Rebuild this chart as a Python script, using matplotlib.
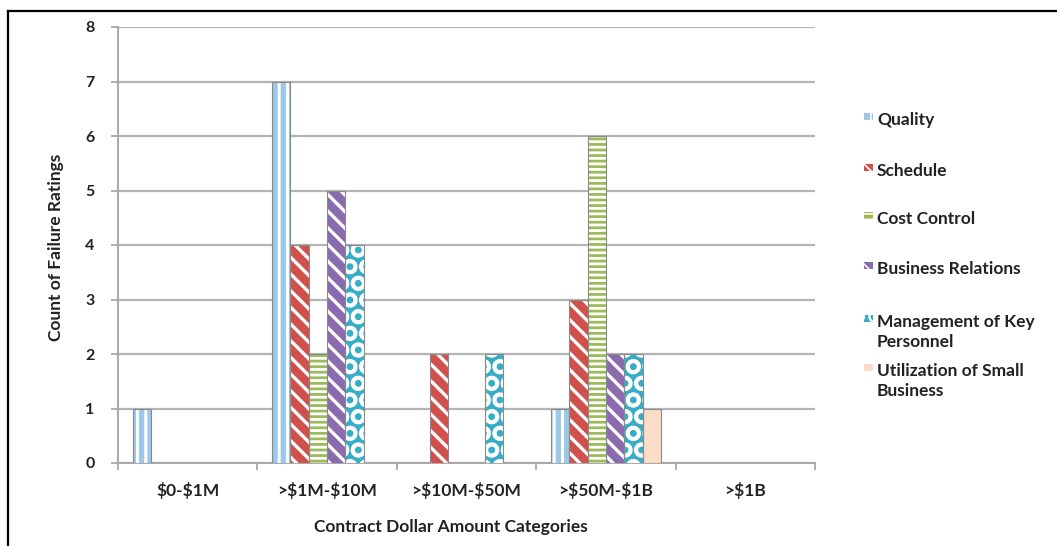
import numpy as np
import matplotlib
matplotlib.use("Agg")
import matplotlib.pyplot as plt
from matplotlib.lines import Line2D
from matplotlib.patches import Rectangle

plt.rcParams["font.family"] = ["Lato", "DejaVu Sans"]
plt.rcParams["font.weight"] = "bold"
plt.rcParams["text.parse_math"] = False

# failure ratings per contract size
categories = ["$0-$1M", ">$1M-$10M", ">$10M-$50M", ">$50M-$1B", ">$1B"]
quality = [1, 7, 0, 1, 0]
schedule = [0, 4, 2, 3, 0]
cost_control = [0, 2, 0, 6, 0]
business_relations = [0, 5, 0, 2, 0]
key_personnel = [0, 4, 2, 2, 0]
small_business = [0, 0, 0, 1, 0]

# name, values, colour, hatch, hatch line width
series = [
    ("Quality", quality, "#9cc8ea", "||", 2.2),
    ("Schedule", schedule, "#d0504c", "\\\\", 2.4),
    ("Cost Control", cost_control, "#9bbb59", "---", 2.0),
    ("Business Relations", business_relations, "#8a6bb0", "\\\\", 2.4),
    ("Management of Key\nPersonnel", key_personnel, "#37aec8", "O", 2.6),
    ("Utilization of Small\nBusiness", small_business, "#fbdcc8", "", 1.0),
]

W, H = 1057, 546
fig = plt.figure(figsize=(W / 100, H / 100), dpi=100)
ax = fig.add_axes([118 / W, 1 - 463 / H, 697 / W, 436 / H])

x = np.arange(len(categories))
n = len(series)
w = 0.79 / n

text_col = "#222222"
fs = 12.5

for i, (name, vals, col, hatch, hlw) in enumerate(series):
    pos = x - 0.395 + w * (i + 0.5)
    with plt.rc_context({"hatch.linewidth": hlw}):
        ax.bar(pos, vals, width=w, color=col, hatch=hatch, edgecolor="white",
               linewidth=0, zorder=3)
    ax.bar(pos, vals, width=w, fill=False, edgecolor="#8a8a8a",
           linewidth=0.8, zorder=4)

ax.set_xlim(-0.5, len(categories) - 0.5)
ax.set_ylim(0, 8)
ax.set_yticks(range(0, 9))
ax.set_xticks(x)
ax.set_xticklabels(categories, fontsize=fs, fontweight="bold", color=text_col)
ax.set_xticks(np.arange(-0.5, len(categories)), minor=True)
ax.tick_params(axis="x", which="major", length=0, pad=14)
ax.tick_params(axis="x", which="minor", length=5, color="#a0a0a0", width=1.2)
ax.tick_params(axis="y", length=5, color="#a0a0a0", width=1.2, pad=12,
               labelsize=fs - 1, labelcolor=text_col)
for t in ax.get_yticklabels():
    t.set_fontweight("bold")

ax.grid(axis="y", color="#b4b4b4", linewidth=1.6, zorder=0)
for s in ["top", "right"]:
    ax.spines[s].set_visible(False)
for s in ["left", "bottom"]:
    ax.spines[s].set_color("#a8a8a8")
    ax.spines[s].set_linewidth(1.4)

ax.set_xlabel("Contract Dollar Amount Categories", fontsize=fs,
              fontweight="bold", color=text_col)
ax.xaxis.set_label_coords((451 - 118) / 697, -56 / 436)
ax.set_ylabel("Count of Failure Ratings", fontsize=fs, fontweight="bold",
              color=text_col)
ax.yaxis.set_label_coords(-54 / 697, 0.495)

# legend column on the right: swatch beside the first line of each label
baselines = [125, 176, 224, 274, 327, 376]
for (name, vals, col, hatch, hlw), yb in zip(series, baselines):
    with plt.rc_context({"hatch.linewidth": 1.2}):
        fig.add_artist(Rectangle((864 / W, 1 - (yb - 5) / H), 9 / W, 7 / H,
                                 transform=fig.transFigure, facecolor=col,
                                 hatch=hatch, edgecolor="white", linewidth=0))
    fig.text(877 / W, 1 - yb / H, name.split("\n")[0], fontsize=fs,
             fontweight="bold", color=text_col, va="baseline", ha="left")
    if "\n" in name:
        fig.text(877 / W, 1 - (yb + 20) / H, name.split("\n")[1], fontsize=fs,
                 fontweight="bold", color=text_col, va="baseline", ha="left")

# frame around the figure
fig.add_artist(Line2D([8 / W, 1], [1 - 11 / H, 1 - 11 / H],
                      transform=fig.transFigure, color="black", linewidth=1.6))
fig.add_artist(Line2D([8 / W, 8 / W], [0, 1 - 11 / H],
                      transform=fig.transFigure, color="black", linewidth=1.6))

fig.savefig("out.png", dpi=100)
